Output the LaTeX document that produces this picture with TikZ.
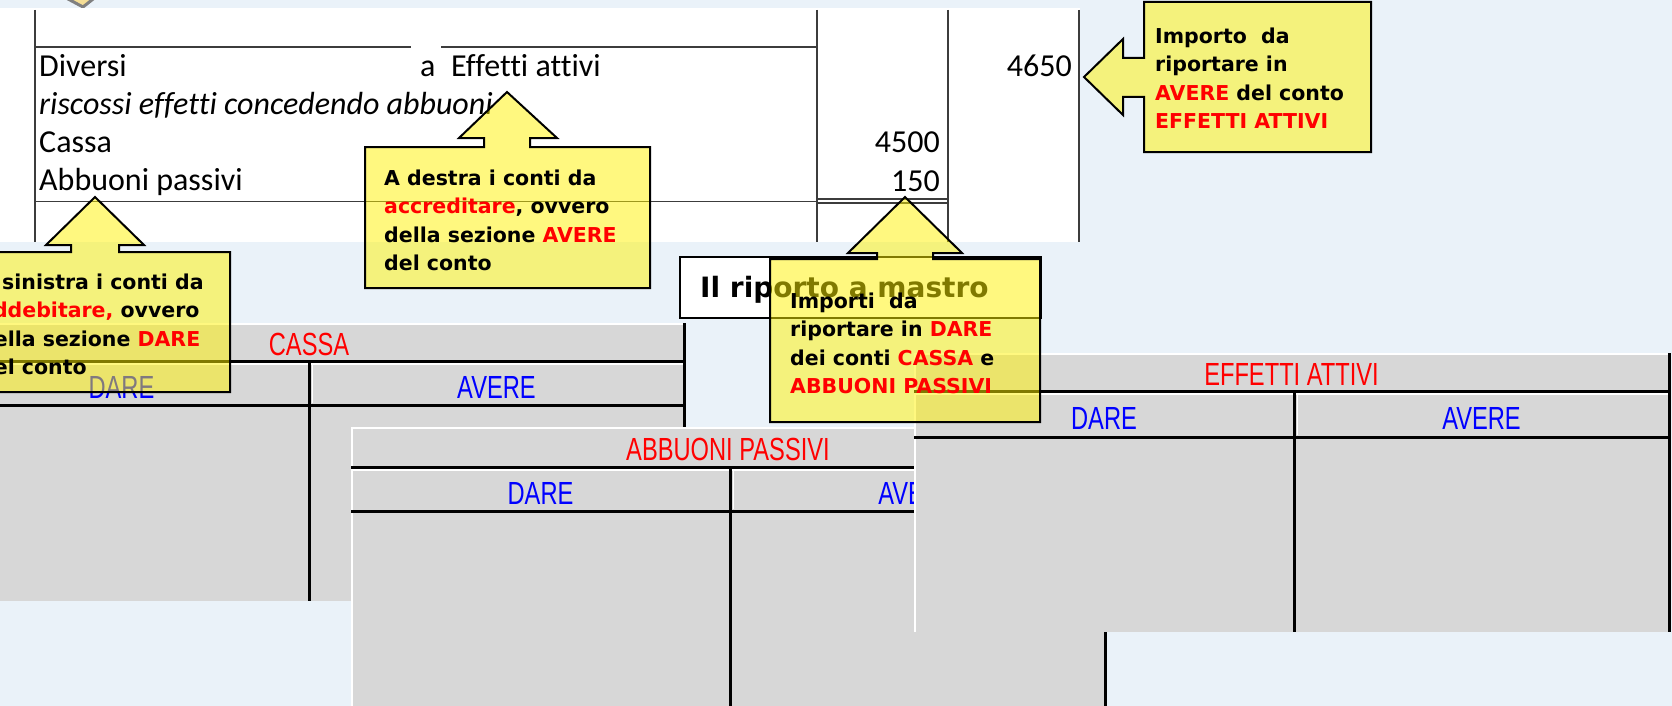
\documentclass[tikz,border=0pt]{standalone}
\usepackage{graphicx}
\usepackage{fontspec}
\setmainfont{DejaVu Sans}
\newfontfamily\jfont[Ligatures=NoCommon]{Carlito}
\newfontfamily\tfont{Liberation Sans}
\definecolor{bgblue}{RGB}{234,242,249}
\definecolor{tgray}{RGB}{215,215,215}
\definecolor{jline}{RGB}{60,60,60}
\definecolor{tanfill}{RGB}{245,222,150}
\definecolor{cred}{RGB}{255,0,0}
\definecolor{cblue}{RGB}{0,0,255}
\newcommand{\tnarrow}[1]{\scalebox{0.74}[1]{#1}}
% #1 id, #2 L, #3 R, #4 T, #5 y1, #6 y2, #7 B, #8 M, #9 title
\newcommand{\TAcct}[9]{%
  \fill[tgray] (#2,#4) rectangle (#3,#7);
  \draw[hl] ({#2+1},#7) -- ({#2+1},{#4+1}) -- (#3,{#4+1});
  \draw[hl] ({#2+1},{#5+3}) -- (#3,{#5+3});
  \draw[hl] ({#8+3.5},{#5+3}) -- ({#8+3.5},{#6-2});
  \draw[tline] (#2,#5) -- (#3,#5);
  \draw[tline] (#2,#6) -- (#3,#6);
  \draw[tline] (#3,#4) -- (#3,#7);
  \draw[tline] (#8,#5) -- (#8,#7);
  \node[ttitle] (#1-title) at ({(#2+#3)/2},{(#4+#5)/2+2}) {\tnarrow{#9}};
  \node[thead] (#1-dare) at ({(#2+#8)/2},{(#5+#6)/2+4}) {\tnarrow{DARE}};
  \node[thead] (#1-avere) at ({(#8+#3)/2},{(#5+#6)/2+4}) {\tnarrow{AVERE}};
}
\begin{document}
\begin{tikzpicture}[x=1pt,y=-1pt,
  jl/.style={draw=jline,line width=1.8pt},
  jtxt/.style={inner sep=0pt,font=\jfont\fontsize{32}{38}\selectfont},
  hl/.style={draw=white,line width=1.5pt},
  tline/.style={draw=black,line width=3pt},
  ttitle/.style={inner sep=0pt,text=cred,font=\tfont\fontsize{32}{34}\selectfont},
  thead/.style={inner sep=0pt,text=cblue,font=\tfont\fontsize{32}{34}\selectfont},
  callout/.style={fill=yellow,fill opacity=0.5,draw=black,line width=2pt,line join=miter},
  ctext/.style={anchor=north west,inner sep=0pt,align=left,font=\bfseries\fontsize{20.5}{28.5}\selectfont},
  rbox/.style={draw=black,fill=white,line width=2pt,inner sep=0pt,anchor=north west}]
\useasboundingbox (0,0) rectangle (1672,706);
\clip (0,0) rectangle (1672,706);
\fill[bgblue] (0,0) rectangle (1672,706);
% decorative shape top-left
\filldraw[fill=tanfill,draw=gray,line width=3pt] (55,-8) -- (83,7) -- (102,-8) -- cycle;
% journal panel
\fill[white] (0,8.5) rectangle (1080,242);
\draw[jl] (35,10) -- (35,242);
\draw[jl] (817,10) -- (817,242);
\draw[jl] (948,10) -- (948,242);
\draw[jl] (1079,10) -- (1079,242);
\draw[jl] (35,47) -- (411,47);
\draw[jl] (441,47) -- (817,47);
\draw[jl] (35,201.5) -- (817,201.5);
\draw[jl] (817,199) -- (948,199);
\draw[jl] (817,203) -- (948,203);
\node[jtxt,anchor=base west] (diversi) at (39,77) {Diversi};
\node[jtxt,anchor=base west] (aword) at (420,77) {a};
\node[jtxt,anchor=base west] (effetti) at (451,77) {Effetti attivi};
\node[jtxt,anchor=base west] (riscossi) at (39,115) {\itshape riscossi effetti concedendo abbuoni};
\node[jtxt,anchor=base west] (cassa) at (39,153) {Cassa};
\node[jtxt,anchor=base west] (abbuoni) at (39,190) {Abbuoni passivi};
\node[jtxt,anchor=base east] (n4650) at (1072,77) {4650};
\node[jtxt,anchor=base east] (n4500) at (940,153) {4500};
\node[jtxt,anchor=base east] (n150) at (940,191) {150};
% title box
\node[rbox,minimum width=361pt,minimum height=61pt] (riporto) at (679,256) {};
\node[anchor=base west,inner sep=0pt,font=\bfseries\fontsize{28}{32}\selectfont] (riportotxt) at (700,297) {Il riporto a mastro};
% T accounts
\TAcct{cassaT}{-66}{684}{323}{361}{405}{601}{309}{CASSA}
\TAcct{abbT}{351}{1105}{427}{467}{511}{720}{730}{ABBUONI PASSIVI}
\TAcct{effT}{914}{1669}{353}{391}{437}{632}{1294}{EFFETTI ATTIVI}
% callouts
\path[callout] (-40,252) -- (71,252) -- (71,245) -- (46,245) -- (95,197) -- (144,245) -- (119,245) -- (119,252) -- (230,252) -- (230,392) -- (-40,392) -- cycle;
\node[ctext] (c1txt) at (-21,273) {\rule{0pt}{16pt}A sinistra i conti da\\{\color{cred}addebitare,} ovvero\\della sezione {\color{cred}DARE}\\del conto};
\path[callout] (365,147) -- (484,147) -- (484,138) -- (459,138) -- (507,92) -- (557,138) -- (530,138) -- (530,147) -- (650,147) -- (650,288) -- (365,288) -- cycle;
\node[ctext] (c2txt) at (384,169) {\rule{0pt}{16pt}A destra i conti da\\{\color{cred}accreditare}, ovvero\\della sezione {\color{cred}AVERE}\\del conto};
\path[callout] (770,259) -- (877,259) -- (877,253) -- (848,253) -- (905,197) -- (962,253) -- (933,253) -- (933,259) -- (1040,259) -- (1040,422) -- (770,422) -- cycle;
\node[ctext] (c4txt) at (790,292) {\rule{0pt}{16pt}Importi~~da\\riportare in {\color{cred}DARE}\\dei conti {\color{cred}CASSA} e\\{\color{cred}ABBUONI PASSIVI}};
\path[callout] (1144,2) -- (1371,2) -- (1371,152) -- (1144,152) -- (1144,97) -- (1123,97) -- (1123,115) -- (1084,77) -- (1123,39) -- (1123,58) -- (1144,58) -- cycle;
\node[ctext] (c3txt) at (1155,27) {\rule{0pt}{16pt}Importo~~da\\riportare in\\{\color{cred}AVERE} del conto\\{\color{cred}EFFETTI ATTIVI}};
\end{tikzpicture}
\end{document}
